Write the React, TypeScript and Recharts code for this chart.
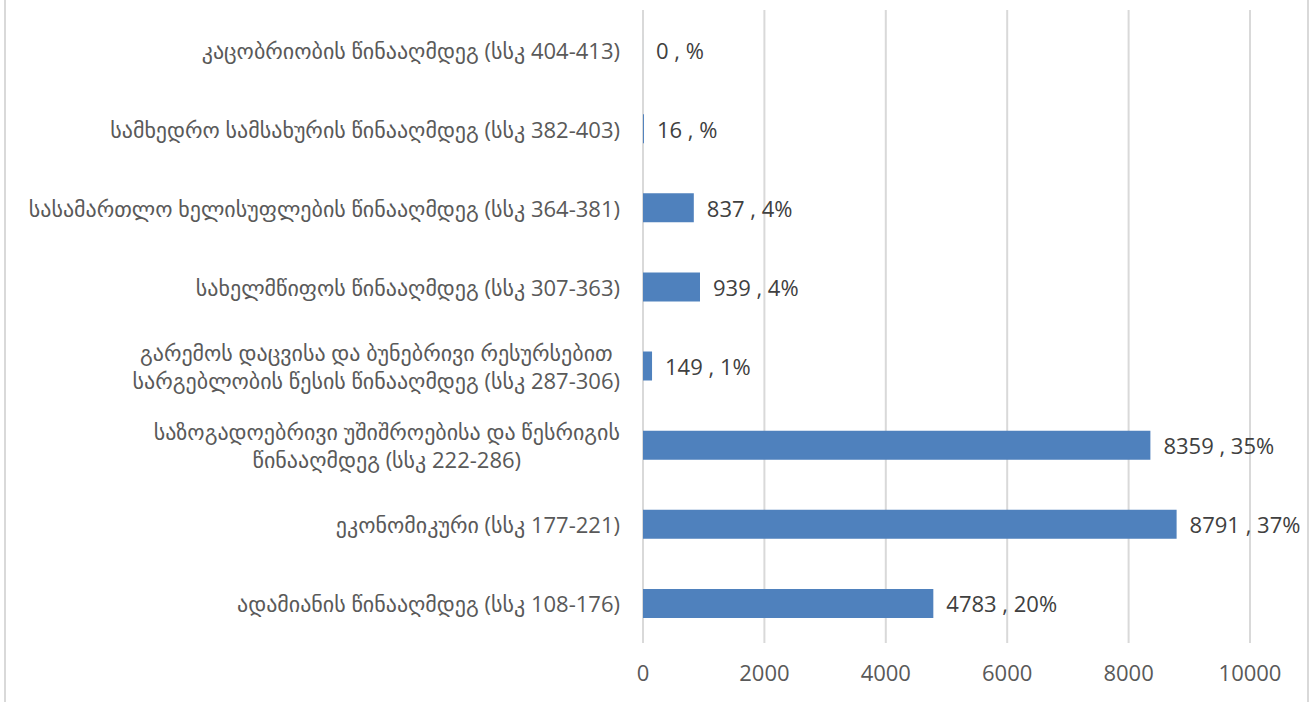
import React from 'react';
import { BarChart, Bar, XAxis, YAxis, CartesianGrid, LabelList } from 'recharts';

// categories top to bottom, "\n" marks the line breaks used in the chart
const categories = [
  'კაცობრიობის წინააღმდეგ (სსკ 404-413)',
  'სამხედრო სამსახურის წინააღმდეგ (სსკ 382-403)',
  'სასამართლო ხელისუფლების წინააღმდეგ (სსკ 364-381)',
  'სახელმწიფოს წინააღმდეგ (სსკ 307-363)',
  'გარემოს დაცვისა და ბუნებრივი რესურსებით\nსარგებლობის წესის წინააღმდეგ (სსკ 287-306)',
  'საზოგადოებრივი უშიშროებისა და წესრიგის\nწინააღმდეგ (სსკ 222-286)',
  'ეკონომიკური (სსკ 177-221)',
  'ადამიანის წინააღმდეგ (სსკ 108-176)',
];
const counts = [0, 16, 837, 939, 149, 8359, 8791, 4783];
const shares = ['', '', '4', '4', '1', '35', '37', '20'];
const xTicks = [0, 2000, 4000, 6000, 8000, 10000];

const data = categories.map((name, i) => ({
  name,
  count: counts[i],
  label: `${counts[i]} , ${shares[i]}%`,
}));

const FONT = "'Open Sans', 'DejaVu Sans', sans-serif";
const FONT_SIZE = 22;

let canvasCtx: CanvasRenderingContext2D | null = null;
const measure = (s: string) => {
  if (!canvasCtx) canvasCtx = document.createElement('canvas').getContext('2d');
  if (!canvasCtx) return s.length * 11;
  canvasCtx.font = `${FONT_SIZE}px ${FONT}`;
  return canvasCtx.measureText(s).width;
};

// multi-line labels are centred in a block that is right-aligned to the axis
const CategoryTick = ({ x, y, payload }: any) => {
  const lines = String(payload.value).split('\n');
  const lineHeight = 28;
  const maxW = Math.max(...lines.map(measure));
  const cx = x - maxW / 2;
  const startY = y - ((lines.length - 1) * lineHeight) / 2;
  return (
    <g>
      {lines.map((line, i) => (
        <text
          key={i}
          x={lines.length > 1 ? cx : x}
          y={startY + i * lineHeight}
          textAnchor={lines.length > 1 ? 'middle' : 'end'}
          dominantBaseline="central"
          fill="#595959"
          fontSize={FONT_SIZE}
          fontFamily={FONT}
        >
          {line}
        </text>
      ))}
    </g>
  );
};

const ValueLabel = (props: any) => {
  const { x, y, width, height, value } = props;
  return (
    <text
      x={x + width + 13}
      y={y + height / 2}
      dominantBaseline="central"
      fill="#404040"
      fontSize={FONT_SIZE}
      fontFamily={FONT}
    >
      {value}
    </text>
  );
};

export default function App() {
  return (
    <div style={{ position: 'absolute', left: 0, top: 0, width: 1311, height: 702, background: '#fff' }}>
      <div style={{ position: 'absolute', left: 4, top: 0, width: 2, height: 702, background: '#d9d9d9' }} />
      <div style={{ position: 'absolute', left: 1307, top: 0, width: 2, height: 702, background: '#d9d9d9' }} />
      <BarChart
        width={1311}
        height={702}
        data={data}
        layout="vertical"
        margin={{ top: 10, right: 61, left: 0, bottom: 0 }}
        style={{ position: 'absolute', left: 0, top: 0 }}
      >
        <CartesianGrid horizontal={false} stroke="#d9d9d9" strokeWidth={2} />
        <XAxis
          type="number"
          domain={[0, 10000]}
          ticks={xTicks}
          axisLine={false}
          tickLine={false}
          tickSize={0}
          tickMargin={22}
          height={59}
          tick={{ fill: '#595959', fontSize: FONT_SIZE, fontFamily: FONT }}
        />
        <YAxis
          type="category"
          dataKey="name"
          width={643}
          axisLine={false}
          tickLine={false}
          tickSize={0}
          tickMargin={23}
          interval={0}
          tick={<CategoryTick />}
        />
        <Bar dataKey="count" fill="#4f81bd" barSize={29} minPointSize={0.01} isAnimationActive={false}>
          <LabelList dataKey="label" content={<ValueLabel />} />
        </Bar>
      </BarChart>
    </div>
  );
}
